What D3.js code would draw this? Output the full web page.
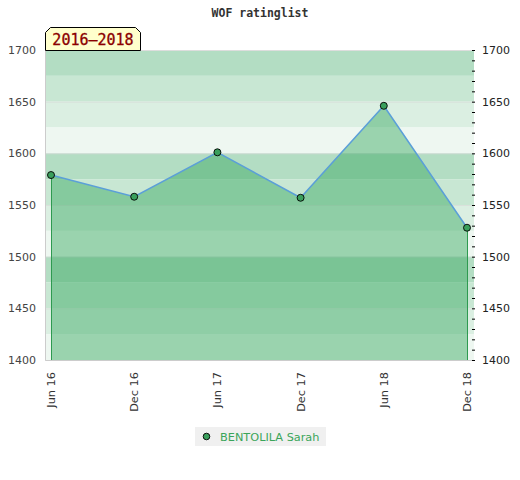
<!DOCTYPE html>
<html><head><meta charset="utf-8">
<script src="https://cdn.jsdelivr.net/npm/d3@7"></script>
<style>body{margin:0;background:#fff}</style>
</head><body>
<script>
const categories = ["Jun 16","Dec 16","Jun 17","Dec 17","Jun 18","Dec 18"];
const ratings = [1579, 1558, 1601, 1557, 1646, 1528];
const yTicks = [1400,1450,1500,1550,1600,1650,1700];
const playerName = "BENTOLILA Sarah";
const periodLabel = "2016–2018";
const titleText = "WOF ratinglist";

const W=520,H=480;
const svg=d3.select("body").append("svg").attr("width",W).attr("height",H);
const L=45,R=474,T=50,B=360;
const x=d3.scalePoint().domain(categories).range([51,467]);
const y=d3.scaleLinear().domain([1400,1700]).range([B,T]);

// bands
const bandColors=["#b3ddc3","#c8e7d3","#dbefe2","#eef7f1"];
const bands=d3.range(1700,1400,-25);
svg.selectAll("rect.band").data(bands).enter().append("rect")
  .attr("x",L).attr("width",R-L)
  .attr("y",d=>y(d)).attr("height",d=>y(d-25)-y(d))
  .attr("fill",d=>bandColors[((1700-d)/25)%4]);
// gridlines
svg.selectAll("line.grid").data(yTicks).enter().append("line")
  .attr("x1",L).attr("x2",R).attr("y1",d=>y(d)+0.5).attr("y2",d=>y(d)+0.5)
  .attr("stroke","#d8d8d8").attr("stroke-width",1).attr("opacity",0.6);
// frame
svg.append("path").attr("d",`M${L+0.5},${T}V${B+0.5}H${R}`).attr("fill","none").attr("stroke","#cccccc");
svg.append("line").attr("x1",L).attr("x2",R).attr("y1",T+0.5).attr("y2",T+0.5).attr("stroke","#dddddd");

const data=categories.map((c,i)=>({c,v:ratings[i]}));
const area=d3.area().x(d=>x(d.c)).y0(B).y1(d=>y(d.v));
svg.append("path").datum(data).attr("d",area).attr("fill","rgb(55,167,95)").attr("fill-opacity",0.46);
// vertical edges
[data[0],data[data.length-1]].forEach(d=>{
  svg.append("line").attr("x1",x(d.c)+0.5).attr("x2",x(d.c)+0.5).attr("y1",y(d.v)).attr("y2",B)
    .attr("stroke","#2e9a50").attr("stroke-width",1);
});
const line=d3.line().x(d=>x(d.c)).y(d=>y(d.v));
svg.append("path").datum(data).attr("d",line).attr("fill","none").attr("stroke","#5b9fd8").attr("stroke-width",1.5);
svg.selectAll("circle.pt").data(data).enter().append("circle")
  .attr("cx",d=>x(d.c)).attr("cy",d=>y(d.v)).attr("r",3.5)
  .attr("fill","#3a9f5c").attr("stroke","#000").attr("stroke-width",0.9);

// left axis labels
const fnt="DejaVu Sans, sans-serif";
svg.append("g").selectAll("text").data(yTicks).enter().append("text")
  .attr("x",36).attr("y",d=>y(d)).attr("dy","0.35em").attr("text-anchor","end")
  .attr("font-family",fnt).attr("font-size",11).attr("fill","#444").text(d=>d);
// right axis
const ra=d3.axisLeft(y).tickValues(d3.range(1400,1701,10)).tickSize(3).tickFormat("");
const rg=svg.append("g").attr("transform",`translate(${R+1},0)`).call(ra);
rg.select(".domain").remove();
rg.selectAll(".tick line").attr("stroke","#000");
svg.append("g").selectAll("text").data(yTicks).enter().append("text")
  .attr("x",482).attr("y",d=>y(d)).attr("dy","0.35em").attr("text-anchor","start")
  .attr("font-family",fnt).attr("font-size",11).attr("fill","#222").text(d=>d);
// x labels
svg.append("g").selectAll("text").data(categories).enter().append("text")
  .attr("transform",d=>`translate(${x(d)},372) rotate(-90)`)
  .attr("dy","0.35em").attr("text-anchor","end")
  .attr("font-family",fnt).attr("font-size",11.3).attr("fill","#333").text(d=>d);

// title
svg.append("text").attr("x",260).attr("y",17).attr("text-anchor","middle")
  .attr("font-family","DejaVu Sans Mono, monospace").attr("font-weight","bold").attr("font-size",11.5)
  .attr("fill","#333").text(titleText);

// tag
const tx0=45.5,tx1=140.5,ty0=27.5,ty1=50.5,c=5;
svg.append("path").attr("d",`M${tx0},${ty1}V${ty0+c}L${tx0+c},${ty0}H${tx1-c}L${tx1},${ty0+c}V${ty1}Z`)
  .attr("fill","#ffffcc").attr("stroke","#000").attr("stroke-width",1);
svg.append("text").attr("x",(tx0+tx1)/2).attr("y",45).attr("text-anchor","middle")
  .attr("font-family","DejaVu Sans Mono, monospace").attr("font-size",15).attr("fill","#8b0000")
  .attr("stroke","#8b0000").attr("stroke-width",0.3).text(periodLabel);

// legend
svg.append("rect").attr("x",195).attr("y",427).attr("width",131).attr("height",19).attr("fill","#f0f0f0");
svg.append("circle").attr("cx",206.5).attr("cy",436.5).attr("r",3.3).attr("fill","#3a9f5c").attr("stroke","#000").attr("stroke-width",0.9);
svg.append("text").attr("x",220).attr("y",437).attr("dy","0.35em").attr("font-family",fnt).attr("font-size",11.3)
  .attr("fill","#3aa55a").text(playerName);
</script>
</body></html>
